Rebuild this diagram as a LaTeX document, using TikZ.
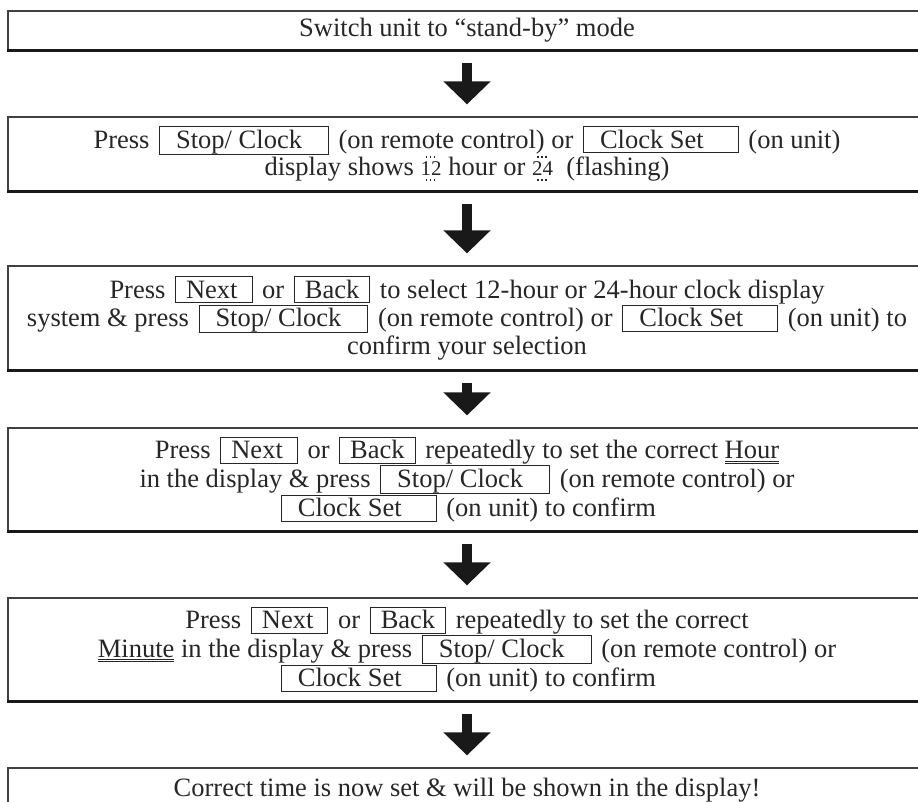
\documentclass[tikz,border=0pt]{standalone}
\usepackage{fontspec}
\setmainfont{Liberation Serif}
\usetikzlibrary{arrows.meta,calc}
\newcommand\btn[3]{\kern3pt\relax{\fboxsep=0pt\fboxrule=1pt\fbox{\rule[-4pt]{0pt}{25pt}\hspace{#1}#3\hspace{#2}}}\kern3pt\relax}
\newcommand\dotrow[1]{\hbox to #1{\hss\leaders\hbox to 4pt{\hss\rule{1.6pt}{1.6pt}\hss}\hskip 0.8#1\hss}}
\newcommand\flash[1]{\setbox0\hbox{\fontsize{21}{21}\selectfont #1}\rlap{\raisebox{18pt}{\dotrow{\wd0}}}\rlap{\raisebox{-5pt}{\dotrow{\wd0}}}\box0\relax}
\newcommand\dul[1]{\setbox0\hbox{#1}\rlap{\rule[-3pt]{\wd0}{0.8pt}}\rlap{\rule[-5pt]{\wd0}{0.8pt}}\box0\relax}
\tikzset{
  stepbox/.style={draw=black!75, line width=1.3pt, minimum width=918pt, align=center,
    inner sep=0pt, font=\fontsize{26.5}{27.5}\selectfont, text=black!85},
  flowarrow/.style={line width=10pt, draw=black!90, -{Triangle[width=46pt,length=23pt]}},
}
\begin{document}
\begin{tikzpicture}[x=1pt,y=-1pt]
\useasboundingbox (0,0) rectangle (918,802);
\node[stepbox, minimum height=39pt] (b1) at (467,30.5) {Switch unit to “stand-by” mode};
\node[stepbox, minimum height=74pt] (b2) at (467,154) {Press \btn{16pt}{26pt}{Stop/ Clock} (on remote control) or \btn{16pt}{34pt}{Clock Set} (on unit)\\
display shows \flash{12} hour or \flash{24} \ (flashing)};
\node[stepbox, minimum height=104pt] (b3) at (467,318) {Press \btn{10pt}{14pt}{Next} or \btn{10pt}{10pt}{Back} to select 12-hour or 24-hour clock display\\
system \& press \btn{16pt}{26pt}{Stop/ Clock} (on remote control) or \btn{16pt}{34pt}{Clock Set} (on unit) to\\
confirm your selection};
\node[stepbox, minimum height=103pt] (b4) at (467,479.5) {Press \btn{10pt}{14pt}{Next} or \btn{10pt}{10pt}{Back} repeatedly to set the correct \dul{Hour}\\
in the display \& press \btn{16pt}{26pt}{Stop/ Clock} (on remote control) or\\
\btn{16pt}{34pt}{Clock Set} (on unit) to confirm};
\node[stepbox, minimum height=103pt] (b5) at (467,649.5) {Press \btn{10pt}{14pt}{Next} or \btn{10pt}{10pt}{Back} repeatedly to set the correct\\
\dul{Minute} in the display \& press \btn{16pt}{26pt}{Stop/ Clock} (on remote control) or\\
\btn{16pt}{34pt}{Clock Set} (on unit) to confirm};
\node[stepbox, minimum height=44pt] (b6) at (467,790) {Correct time is now set \& will be shown in the display!};
\foreach \b in {b1,b2,b3,b4,b5,b6}
  \draw[line width=3.2pt, black!90] (\b.south west) -- (\b.south east);
\foreach \a/\b in {b1/b2,b2/b3,b3/b4,b4/b5,b5/b6}
  \draw[flowarrow] ($(\a.south)+(0,12)$) -- ($(\b.north)+(0,-12)$);
\end{tikzpicture}
\end{document}
